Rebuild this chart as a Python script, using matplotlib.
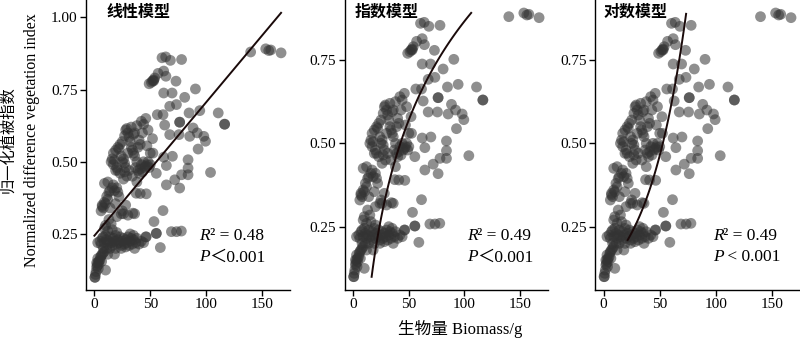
import numpy as np
import matplotlib
matplotlib.use("Agg")
import matplotlib.pyplot as plt

SERIF = ["Liberation Serif", "Noto Sans CJK SC"]
CJK = ["Noto Sans CJK SC", "Liberation Serif"]

# biomass (g) and NDVI (same data in every panel)
biomass = [
    0.5, 0.5, 1, 1.5, 2, 2.5, 3, 3.5, 4, 5, 5.5, 6, 7, 8, 9, 10, 4, 2, 6.5, 8, 11, 12, 3,
    3, 5, 6, 7, 8, 9, 10, 11, 12, 13, 14, 15, 16, 17, 18, 19, 20, 21, 22, 23, 24, 25,
    26, 27, 28, 29, 30, 31, 32, 33, 34, 35, 36, 37, 38, 40, 42, 44, 46, 12, 16, 20, 9,
    18, 24, 28, 14, 35, 32, 19,
    10, 13, 15, 20, 24, 26, 25, 6, 7, 8, 9, 10, 11, 12, 13, 14, 9, 12, 16, 17, 18, 20,
    21, 7, 19, 22, 30, 28, 26, 29, 27, 14, 36,
    15, 16, 17, 18, 19, 20, 21, 22, 23, 24, 25, 26, 27, 28, 29, 30, 31, 32, 33, 34, 35,
    36, 37, 38, 39, 40, 41, 42, 43, 44, 45, 46, 47, 48, 49, 50, 36, 38, 40, 42, 44, 46,
    48, 41, 39, 34, 31, 28, 23, 21, 25, 27, 33, 19, 17, 43, 47, 50, 52, 38, 41, 30, 35,
    49, 51, 52, 53, 54, 53, 57, 62, 64, 73, 60.5, 63.8, 68, 78, 62, 69.5, 90.4, 80.8,
    73.4, 67.4, 61.4, 56.3, 84.7, 94.3, 110.8, 116.5, 116.5, 76.3, 76.3, 62.9, 88.3,
    92, 97.9, 99.4, 92.8, 85.3, 75.7, 67.4, 52.4, 62, 69.8, 83.8, 83.8, 64.4, 78,
    83.8, 103.9, 55.4, 71.9, 64.4, 76.3, 46.4, 37.4, 34.4, 61.4, 53.3, 55.4, 55.4,
    46.4, 59, 68.9, 73.5, 77.8, 139.8, 153.3, 157.8, 156, 167,
]
ndvi = [
    0.10, 0.10, 0.11, 0.12, 0.135, 0.14, 0.15, 0.13, 0.155, 0.16, 0.17, 0.175, 0.18,
    0.185, 0.19, 0.125, 0.145, 0.15, 0.155, 0.20, 0.20, 0.18, 0.165,
    0.22, 0.225, 0.215, 0.235, 0.24, 0.22, 0.245, 0.23, 0.215, 0.225, 0.24, 0.22, 0.21,
    0.235, 0.225, 0.245, 0.215, 0.23, 0.22, 0.24, 0.21, 0.225, 0.235, 0.215, 0.23, 0.22,
    0.24, 0.21, 0.225, 0.235, 0.215, 0.23, 0.20, 0.22, 0.235, 0.215, 0.225, 0.22, 0.24,
    0.26, 0.265, 0.255, 0.27, 0.18, 0.20, 0.205, 0.20, 0.245, 0.25, 0.20,
    0.28, 0.30, 0.285, 0.31, 0.32, 0.32, 0.33, 0.33, 0.345, 0.34, 0.36, 0.355, 0.38,
    0.37, 0.395, 0.40, 0.425, 0.43, 0.41, 0.42, 0.40, 0.41, 0.395, 0.35, 0.355, 0.38,
    0.315, 0.35, 0.44, 0.45, 0.465, 0.34, 0.32,
    0.50, 0.51, 0.49, 0.505, 0.47, 0.48, 0.55, 0.545, 0.56, 0.52, 0.50, 0.51, 0.495,
    0.61, 0.615, 0.60, 0.585, 0.57, 0.55, 0.54, 0.595, 0.52, 0.48, 0.50, 0.47, 0.46,
    0.475, 0.49, 0.465, 0.50, 0.48, 0.485, 0.49, 0.50, 0.48, 0.49, 0.60, 0.625, 0.575,
    0.64, 0.63, 0.65, 0.61, 0.56, 0.55, 0.45, 0.47, 0.48, 0.46, 0.47, 0.57, 0.59, 0.62,
    0.54, 0.53, 0.60, 0.555, 0.53, 0.58, 0.43, 0.39, 0.53, 0.53,
    0.77, 0.775, 0.78, 0.783, 0.79, 0.78, 0.806, 0.814, 0.796, 0.779, 0.86, 0.863,
    0.851, 0.854, 0.738, 0.738, 0.752, 0.723, 0.698, 0.692, 0.663, 0.663, 0.669, 0.677,
    0.669, 0.63, 0.63, 0.637, 0.637, 0.627, 0.617, 0.60, 0.588, 0.571, 0.544, 0.588,
    0.594, 0.594, 0.53, 0.516, 0.519, 0.507, 0.478, 0.487, 0.455, 0.455, 0.463, 0.46,
    0.4375, 0.42, 0.409, 0.389, 0.391, 0.322, 0.331, 0.293, 0.252, 0.252, 0.24, 0.203,
    0.258, 0.258, 0.26, 0.88, 0.891, 0.887, 0.885, 0.877,
]

titles = ["线性模型", "指数模型", "对数模型"]
r2_labels = ["0.48", "0.49", "0.49"]
p_labels = ["＜0.001", "＜0.001", " < 0.001"]

# fitted model coefficients (estimated from the drawn curves)
LIN_A, LIN_B = 0.244, 0.00462          # y = a + b x
LOG_A, LOG_B = -1.10, 0.427            # y = a + b ln x
EXP_A, EXP_B = 0.116, 0.0277           # y = a exp(b x)

fig = plt.figure(figsize=(8, 3.39), dpi=100)
positions = [(0.1075, 0.1445, 0.255, 0.8555),
             (0.431, 0.1445, 0.254, 0.8555),
             (0.744, 0.1445, 0.256, 0.8555)]
ylims = [(0.056, 1.06), (0.06, 0.93), (0.06, 0.93)]
yticks = [[0.25, 0.50, 0.75, 1.00], [0.25, 0.50, 0.75], [0.25, 0.50, 0.75]]

x1 = np.linspace(0, 167, 50)
x2 = np.linspace(16.6, 106, 100)
x3 = np.linspace(21.4, 73.5, 100)
curves = [(x1, LIN_A + LIN_B * x1),
          (x2, LOG_A + LOG_B * np.log(x2)),
          (x3, EXP_A * np.exp(EXP_B * x3))]
title_x = [0.10, 0.05, 0.04]
note_x = [0.554, 0.60, 0.574]

for i in range(3):
    ax = fig.add_axes(positions[i])
    ax.scatter(biomass, ndvi, s=60, color="#333333", alpha=0.55,
               edgecolors="none", zorder=2)
    cx, cy = curves[i]
    ax.plot(cx, cy, color="#1a0a0a", lw=1.4, zorder=3)
    ax.set_xlim(-7.5, 175)
    ax.set_ylim(*ylims[i])
    ax.set_xticks([0, 50, 100, 150])
    ax.set_yticks(yticks[i])
    ax.set_yticklabels([f"{v:.2f}" for v in yticks[i]])
    for s in ["top", "right"]:
        ax.spines[s].set_visible(False)
    for s in ["left", "bottom"]:
        ax.spines[s].set_linewidth(1.0)
    ax.tick_params(direction="out", length=4, width=1, labelsize=11, pad=2)
    for lab in ax.get_xticklabels() + ax.get_yticklabels():
        lab.set_family(SERIF)

    ax.text(title_x[i], 0.96, titles[i], transform=ax.transAxes, family=CJK,
            fontsize=11.5, fontweight="bold", ha="left", va="center")

    t1 = ax.text(note_x[i], 0.16, "R", transform=ax.transAxes, family=SERIF,
                 style="italic", fontsize=12.5, ha="left", va="bottom")
    ax.annotate("² = " + r2_labels[i], xy=(1, 0), xycoords=t1, family=SERIF,
                fontsize=12.5, ha="left", va="bottom")
    t2 = ax.text(note_x[i], 0.085, "P", transform=ax.transAxes, family=SERIF,
                 style="italic", fontsize=12.5, ha="left", va="bottom")
    ax.annotate(p_labels[i], xy=(1, 0), xycoords=t2, family=SERIF,
                fontsize=12.5, ha="left", va="bottom")

fig.text(0.010, 0.587, "归一化植被指数", rotation=90, family=CJK,
         fontsize=11, ha="center", va="center")
fig.text(0.040, 0.587, "Normalized difference vegetation index", rotation=90,
         family=SERIF, fontsize=11.5, ha="center", va="center")
fig.text(0.575, 0.03, "生物量 Biomass/g", family=SERIF, fontsize=12,
         ha="center", va="center")

fig.savefig("out.png", dpi=100)
